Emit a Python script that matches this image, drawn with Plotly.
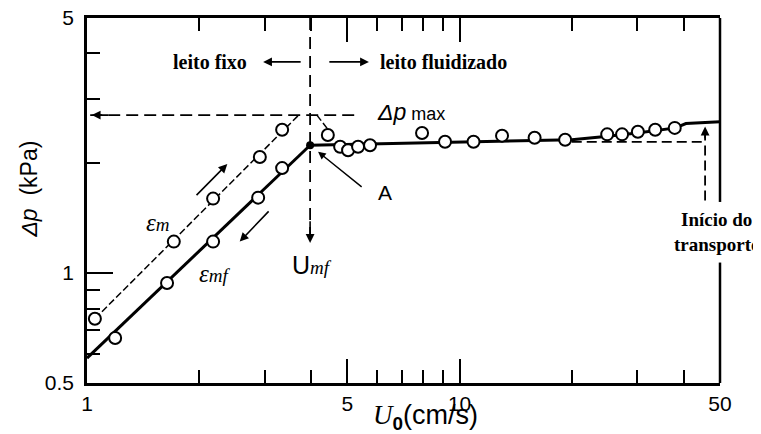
import math
import plotly.graph_objects as go

# ---------------- data ----------------
# packed bed, increasing velocity (epsilon_m, dashed)
u_m = [1.05, 1.71, 2.18, 2.91, 3.34]
dp_m = [0.75, 1.22, 1.60, 2.08, 2.47]
# packed bed, decreasing velocity (epsilon_mf, solid)
u_mf = [1.19, 1.64, 2.18, 2.88, 3.34]
dp_mf = [0.664, 0.94, 1.22, 1.61, 1.94]
# fluidized bed points
u_fl = [4.43, 4.78, 5.02, 5.34, 5.75, 7.93, 9.14, 10.9, 13.0, 15.9, 19.2, 24.9, 27.3, 30.1, 33.5, 37.8]
dp_fl = [2.39, 2.22, 2.17, 2.22, 2.24, 2.42, 2.29, 2.29, 2.38, 2.35, 2.32, 2.40, 2.40, 2.44, 2.47, 2.50]

# curves
u_fix_line = [1.0, 3.97]
dp_fix_line = [0.585, 2.24]
u_flu_line = [3.97, 6, 10, 20, 25, 30, 38, 40.5, 50]
dp_flu_line = [2.24, 2.26, 2.28, 2.32, 2.37, 2.42, 2.50, 2.57, 2.60]
u_m_line = [1.05, 3.7]
dp_m_line = [0.75, 2.71]
u_drop = [4.14, 4.4, 4.6]
dp_drop = [2.71, 2.50, 2.33]

# reference values
u_mf_value = 3.97
dp_max = 2.71
dp_flat = 2.29
u_transport = 45.6

x_ticks = [1, 5, 10, 50]
x_minor = [2, 3, 4, 6, 7, 8, 9, 20, 30, 40]
y_ticks = [0.5, 1, 5]
y_minor = [0.6, 0.7, 0.8, 0.9, 2, 3, 4]

SANS = "Liberation Sans, Arial, sans-serif"
SERIF = "Liberation Serif, Times New Roman, serif"
L = math.log10

fig = go.Figure()

def line(x, y, width, dash="solid"):
    fig.add_trace(go.Scatter(x=x, y=y, mode="lines", hoverinfo="skip",
                             line=dict(color="black", width=width, dash=dash),
                             showlegend=False))

# guide lines
line([1.02, 5.4], [dp_max, dp_max], 1.8, "12px,6px")
line([u_mf_value, u_mf_value], [5, 1.27], 1.8, "12px,7px")
line([20, u_transport], [dp_flat, dp_flat], 1.8, "10px,5px")
line([u_transport, u_transport], [1.58, 2.44], 1.8, "10px,5px")
# data curves
line(u_m_line, dp_m_line, 1.5, "7px,3px")
line(u_drop, dp_drop, 1.5, "7px,3px")
line(u_fix_line, dp_fix_line, 3)
line(u_flu_line, dp_flu_line, 3)

marker = dict(symbol="circle", size=12, color="white", line=dict(color="black", width=2))
for xs, ys in [(u_m, dp_m), (u_mf, dp_mf), (u_fl, dp_fl)]:
    fig.add_trace(go.Scatter(x=xs, y=ys, mode="markers", marker=marker,
                             hoverinfo="skip", showlegend=False))
# point A
fig.add_trace(go.Scatter(x=[u_fix_line[-1]], y=[dp_fix_line[-1]], mode="markers",
                         marker=dict(size=8, color="black"), hoverinfo="skip", showlegend=False))

def arrow(x_head, y_head, x_tail, y_tail, width=1.6, size=1.1, head=2):
    fig.add_annotation(x=L(x_head), y=L(y_head), ax=L(x_tail), ay=L(y_tail),
                       xref="x", yref="y", axref="x", ayref="y", text="",
                       showarrow=True, arrowhead=head, arrowsize=size,
                       arrowwidth=width, arrowcolor="black")

arrow(1.03, dp_max, 1.15, dp_max)            # dp max to axis
arrow(u_mf_value, 1.21, u_mf_value, 1.40)    # Umf down arrow
arrow(u_transport, 2.52, u_transport, 2.32)  # transport up arrow
arrow(2.38, 1.99, 1.95, 1.62)                # rising arrow
arrow(2.57, 1.22, 3.10, 1.49)                # falling arrow
arrow(4.17, 2.15, 5.51, 1.71, width=1.4)     # A arrow
arrow(2.97, 3.79, 3.78, 3.79)                # leito fixo
arrow(5.71, 3.79, 4.43, 3.79)                # leito fluidizado

def text(x, y, t, size, family, xanchor="center", bold=False, **kw):
    fig.add_annotation(x=L(x), y=L(y), xref="x", yref="y", text=t, showarrow=False,
                       xanchor=xanchor, yanchor="middle",
                       font=dict(size=size, family=family, color="black",
                                 weight="bold" if bold else "normal"), **kw)

text(2.14, 3.79, "leito fixo", 20, SERIF, bold=True)
text(9.03, 3.79, "leito fluidizado", 20, SERIF, bold=True)
text(5.93, 2.76, "<i>Δp</i><span style='font-size:18px'> max</span>", 23, SANS, xanchor="left")
text(6.31, 1.66, "A", 21, SANS)
text(1.55, 1.38, "<i>ε<span style='font-size:19px'>m</span></i>", 25, SERIF)
text(2.20, 1.0, "<i>ε<span style='font-size:19px'>mf</span></i>", 25, SERIF)
text(4.02, 1.05, "U<span style='font-family:Liberation Serif;font-size:19px'><i>mf</i></span>", 25, SANS)

fig.add_annotation(x=0.994, y=0.414, xref="paper", yref="paper",
                   text="Início do<br>transporte", showarrow=False,
                   font=dict(size=19, family=SERIF, color="black", weight="bold"),
                   xanchor="center", yanchor="middle", bgcolor="white")

# axis titles
fig.add_annotation(x=-0.0916, y=0.53, xref="paper", yref="paper",
                   text="<i>Δp</i>  (kPa)", textangle=-90, showarrow=False,
                   xanchor="center", yanchor="middle",
                   font=dict(size=23, family=SANS, color="black"))
fig.add_annotation(x=0.534, y=-0.093, xref="paper", yref="paper",
                   text="<i><span style='font-family:Liberation Serif'>U</span></i><sub><b>0</b></sub>(cm/s)",
                   showarrow=False, xanchor="center", yanchor="middle",
                   font=dict(size=27, family=SANS, color="black"))

# right border with a gap for the text
for y0, y1 in [(0, 0.33), (0.496, 1)]:
    fig.add_shape(type="line", xref="paper", yref="paper", x0=1, x1=1, y0=y0, y1=y1,
                  line=dict(color="black", width=2.5))

fig.update_xaxes(type="log", range=[L(1), L(50)], tickvals=x_ticks,
                 ticktext=[str(v) for v in x_ticks], ticks="inside", ticklen=24,
                 tickwidth=2, tickcolor="black", showline=True, linecolor="black",
                 linewidth=2.5, mirror="ticks", showgrid=False, ticklabeloverflow="allow",
                 tickfont=dict(size=21, family=SANS, color="black"),
                 minor=dict(tickvals=x_minor, ticks="inside", ticklen=13,
                            tickwidth=2, tickcolor="black", showgrid=False))
fig.update_yaxes(type="log", range=[L(0.5), L(5)], tickvals=y_ticks,
                 ticktext=["0.5", "1", "5"], ticks="inside", ticklen=26,
                 tickwidth=2, tickcolor="black", showline=True, linecolor="black",
                 linewidth=2.5, mirror=False, showgrid=False, ticklabelstandoff=6,
                 ticklabeloverflow="allow",
                 tickfont=dict(size=21, family=SANS, color="black"),
                 minor=dict(tickvals=y_minor, ticks="inside", ticklen=13,
                            tickwidth=2, tickcolor="black", showgrid=False))

fig.update_layout(width=761, height=434,
                  margin=dict(l=79, r=49, t=10, b=59, autoexpand=False),
                  paper_bgcolor="white", plot_bgcolor="white", showlegend=False)

fig.write_html("out.html")
